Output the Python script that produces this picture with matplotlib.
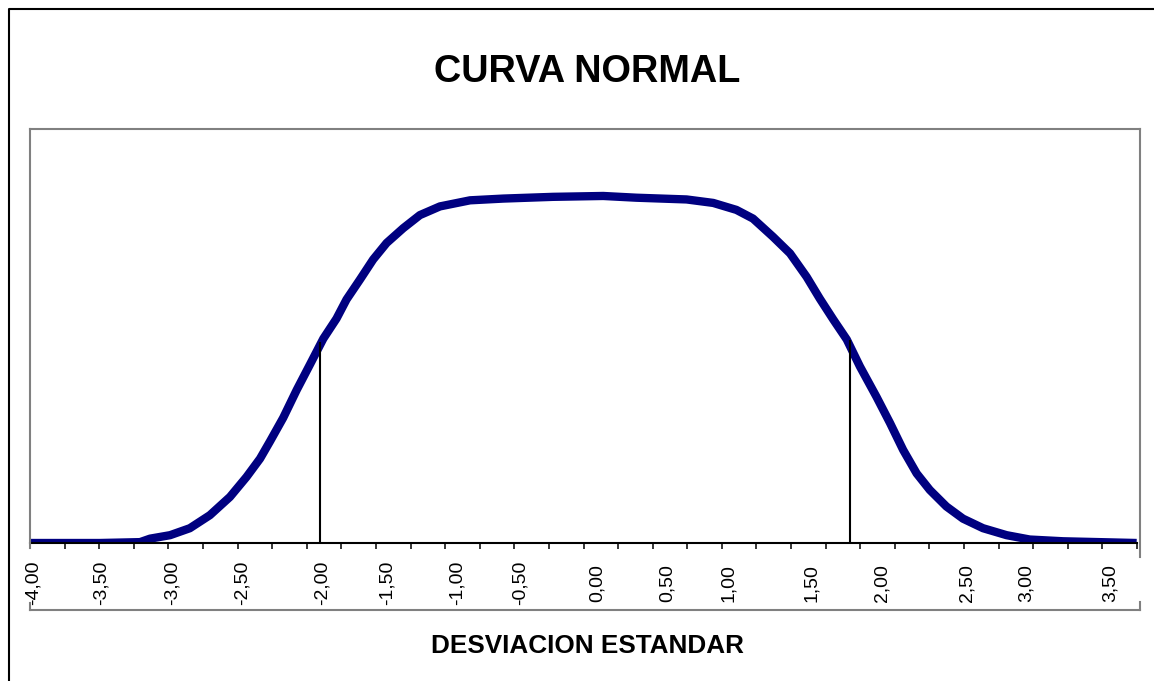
import matplotlib.pyplot as plt
from matplotlib.lines import Line2D

plt.rcParams['font.family'] = ['Liberation Sans', 'DejaVu Sans']

# curva: posicion sobre el eje (en marcas) y altura de la densidad
curve_pos = [0.00, 0.87, 2.02, 3.18, 3.47, 4.05, 4.62, 5.20, 5.78, 6.26, 6.65, 6.94,
             7.32, 7.71, 8.09, 8.48, 8.86, 9.15, 9.54, 9.92, 10.31, 10.79, 11.27,
             11.85, 12.72, 13.68, 15.12, 16.57, 17.53, 18.98, 19.75, 20.42, 20.90,
             21.48, 21.97, 22.45, 22.83, 23.22, 23.61, 23.99, 24.47, 24.86, 25.24,
             25.63, 26.01, 26.49, 26.97, 27.55, 28.23, 28.90, 29.86, 30.92, 31.99]
curve_dens = [0.000, 0.000, 0.000, 0.001, 0.005, 0.009, 0.017, 0.032, 0.053, 0.076,
              0.097, 0.117, 0.144, 0.176, 0.205, 0.235, 0.258, 0.280, 0.303, 0.326,
              0.345, 0.362, 0.377, 0.387, 0.394, 0.396, 0.398, 0.399, 0.397, 0.395,
              0.391, 0.383, 0.373, 0.352, 0.333, 0.306, 0.281, 0.257, 0.234, 0.203,
              0.168, 0.138, 0.107, 0.080, 0.061, 0.042, 0.028, 0.017, 0.009, 0.004,
              0.002, 0.001, 0.000]

# etiquetas del eje x (desviacion estandar)
label_pos = [0.10, 2.07, 4.10, 6.12, 8.43, 10.32, 12.34, 14.17, 16.40, 18.42,
             20.19, 22.60, 24.64, 27.10, 28.79, 31.24]
label_text = ["-4,00", "-3,50", "-3,00", "-2,50", "-2,00", "-1,50", "-1,00", "-0,50",
              "0,00", "0,50", "1,00", "1,50", "2,00", "2,50", "3,00", "3,50"]
n_ticks = 33

# lineas verticales (limites)
limit_pos = [8.38, 23.69]
limit_top = [0.231, 0.233]

W, H = 1154, 681
fig = plt.figure(figsize=(W / 100, H / 100), dpi=100)
ax = fig.add_axes([30 / W, 1 - 543 / H, 1107 / W, 414 / H])
ax.set_facecolor('none')

ax.plot(curve_pos, curve_dens, color='#000080', lw=6.0, solid_capstyle='butt',
        solid_joinstyle='round', zorder=3)
ax.vlines(limit_pos, 0, limit_top, color='black', lw=1.5, zorder=4)

ax.set_xlim(0, n_ticks - 1)
ax.set_ylim(0, 0.476)

for s in ['top', 'right', 'left']:
    ax.spines[s].set_visible(False)
ax.spines['bottom'].set_linewidth(1.5)
ax.spines['bottom'].set_zorder(5)
ax.set_yticks([])

ax.set_xticks(range(n_ticks))
ax.set_xticklabels([])
ax.tick_params(axis='x', which='major', direction='out', length=4.3, width=1.1)
ax.set_xticks(label_pos, minor=True)
ax.set_xticklabels(label_text, minor=True)
ax.tick_params(axis='x', which='minor', length=0, pad=28.5, labelsize=14, rotation=90)
for lbl in ax.get_xticklabels(minor=True):
    lbl.set_va('center')
    lbl.set_ha('center')

ax.set_xlabel("DESVIACION ESTANDAR", fontsize=18.8, fontweight='bold', va='center')
ax.xaxis.set_label_coords((587 - 30) / 1107, (543 - 646) / 414)

fig.text(587 / W, 1 - 72 / H, "CURVA NORMAL", fontsize=27.3, fontweight='bold',
         ha='center', va='center')

# marco gris del area del grafico
gray = '#808080'
frame = [([30, 1140], [129, 129]), ([30, 1140], [610, 610]),
         ([30, 30], [129, 548]), ([30, 30], [603, 610]),
         ([1140, 1140], [129, 557]), ([1140, 1140], [602, 610])]
for xs, ys in frame:
    fig.add_artist(Line2D([x / W for x in xs], [1 - y / H for y in ys],
                          color=gray, lw=1.5, solid_capstyle='projecting'))

# borde negro de la figura
fig.add_artist(Line2D([8.5 / W, 8.5 / W, 1.01], [-0.01, 1 - 9.3 / H, 1 - 9.3 / H],
                      color='black', lw=1.5))

fig.savefig("out.png", dpi=100)
